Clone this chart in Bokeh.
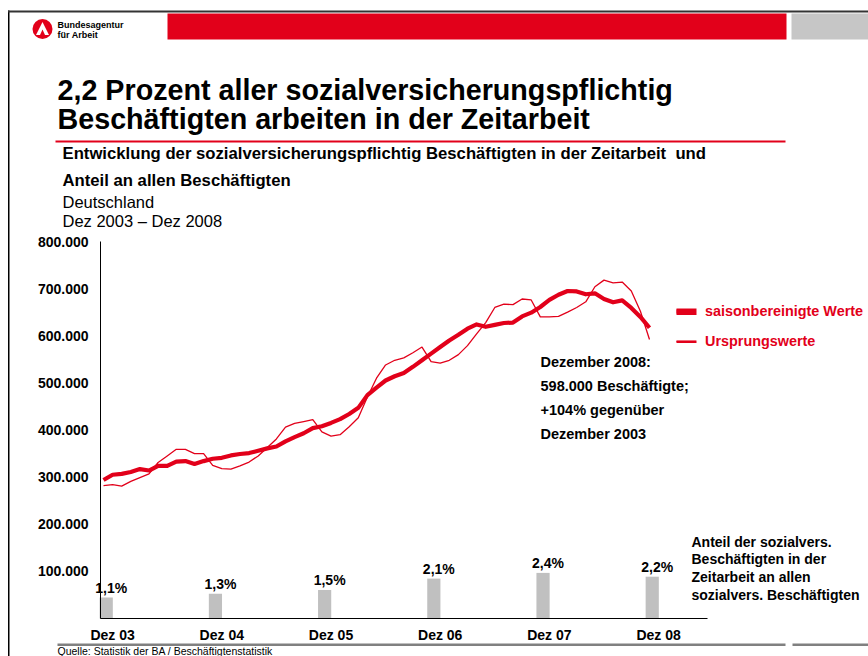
import numpy as np
from bokeh.plotting import figure
from bokeh.models import (Range1d, LinearAxis, FixedTicker, Label, BoxAnnotation,
                          PolyAnnotation, Legend, LegendItem)
from bokeh.core.properties import value
from bokeh.embed import file_html
from bokeh.resources import INLINE

# ---------------- data ----------------
# months since Dez 2003 (0 = Dez 03 ... 60 = Dez 08)
months = list(range(61))
# saisonbereinigte Werte (Tsd.)
sa_values = [294, 305, 307, 311, 317, 314, 324, 324, 333, 334, 328, 334,
             339, 341, 346, 349, 351, 356, 361, 365, 376, 385, 393, 404,
             408, 415, 423, 434, 447, 474, 490, 505, 514, 521, 534, 548,
             562, 576, 590, 602, 615, 624, 619, 623, 627, 628, 641, 649,
             661, 676, 687, 695, 694, 688, 690, 678, 671, 675, 659, 640,
             617]
# Ursprungswerte (Tsd.)
orig_values = [282, 284, 281, 291, 299, 307, 331, 345, 359, 359, 350, 350,
               325, 318, 317, 324, 332, 345, 363, 381, 406, 414, 418, 422,
               396, 387, 390, 407, 426, 470, 510, 538, 548, 553, 564, 576,
               545, 542, 548, 560, 579, 604, 628, 660, 667, 666, 678, 676,
               640, 640, 641, 650, 660, 672, 704, 718, 712, 714, 695, 652,
               592]
bar_months = [0, 12, 24, 36, 48, 60]
share = [1.1, 1.3, 1.5, 2.1, 2.4, 2.2]
share_labels = ["1,1%", "1,3%", "1,5%", "2,1%", "2,4%", "2,2%"]
x_tick_labels = ["Dez 03", "Dez 04", "Dez 05", "Dez 06", "Dez 07", "Dez 08"]
y_ticks = [100, 200, 300, 400, 500, 600, 700, 800]
y_tick_labels = ["100.000", "200.000", "300.000", "400.000",
                 "500.000", "600.000", "700.000", "800.000"]

RED = "#E2001A"
FONT = "Liberation Sans"

# The plotting frame covers the whole canvas; the axes are pinned inside it.
W, H = 868, 656
PX_MONTH = 9.1          # pixels per month
X0 = 103                # pixel of Dez 03
Y0 = 618                # pixel of value 0
PX_K = 377 / 800        # pixels per 1000 employees
PX_PCT = 19             # pixels per percent

x_range = Range1d(-X0 / PX_MONTH, (W - X0) / PX_MONTH)
y_range = Range1d(-(H - Y0) / PX_K, Y0 / PX_K)
pct_range = Range1d(-(H - Y0) / PX_PCT, Y0 / PX_PCT)
x_axis_left = (100 - X0) / PX_MONTH
x_axis_right = (707 - X0) / PX_MONTH

p = figure(width=W, height=H, output_backend="svg", toolbar_location=None,
           x_range=x_range, y_range=y_range,
           min_border=0, min_border_left=0, min_border_right=0,
           min_border_top=0, min_border_bottom=0,
           x_axis_type=None, y_axis_type=None,
           background_fill_color="white", border_fill_color="white")
p.outline_line_color = None
p.extra_y_ranges = {"pct": pct_range}

# axes (pinned at fixed locations)
yaxis = LinearAxis(ticker=FixedTicker(ticks=y_ticks),
                   major_label_overrides=dict(zip(y_ticks, y_tick_labels)),
                   fixed_location=x_axis_left, bounds=(0, 800))
xticks = [m + 1 for m in bar_months]
xaxis = LinearAxis(ticker=FixedTicker(ticks=xticks),
                   major_label_overrides=dict(zip(xticks, x_tick_labels)),
                   fixed_location=0, bounds=(x_axis_left, x_axis_right))
for ax in (yaxis, xaxis):
    ax.axis_line_color = "black"
    ax.axis_line_width = 1
    ax.major_tick_line_color = None
    ax.minor_tick_line_color = None
    ax.major_label_text_font = FONT
    ax.major_label_text_font_style = "bold"
    ax.major_label_text_font_size = "14px"
    ax.major_label_text_color = "black"
yaxis.major_label_standoff = 6
xaxis.major_label_standoff = 2
p.add_layout(yaxis, "left")
p.add_layout(xaxis, "below")

# bars (share of employees)
bar_x = [m + 0.3 for m in bar_months]
p.vbar(x=bar_x, top=share, width=1.45, bottom=0,
       y_range_name="pct", fill_color="#C0C0C0", line_color=None)
p.text(x=bar_x, y=share, text=share_labels,
       y_range_name="pct", x_offset=5, y_offset=-10, text_align="center",
       text_baseline="middle", text_font=value(FONT), text_font_size="14px",
       text_font_style="bold", text_color="black")

# lines
orig_r = p.line(months, orig_values, line_width=1.3, line_color=RED, line_join="round")
sa_r = p.line(months, sa_values, line_width=4.2, line_color=RED, line_join="round")

# legend
legend = Legend(items=[LegendItem(label="saisonbereinigte Werte", renderers=[sa_r]),
                       LegendItem(label="Ursprungswerte", renderers=[orig_r])],
                location=(676, H - 351), border_line_color=None,
                background_fill_alpha=0, padding=0, margin=0, spacing=10,
                glyph_width=20, glyph_height=20, label_height=20,
                label_standoff=9, label_text_font=FONT,
                label_text_font_size="14.4px", label_text_font_style="bold",
                label_text_color=RED)
p.add_layout(legend)


def box(l, t, r, b, color, radius=0):
    p.add_layout(BoxAnnotation(left=l, right=r, top=t, bottom=b,
                               left_units="canvas", right_units="canvas",
                               top_units="canvas", bottom_units="canvas",
                               fill_color=color, fill_alpha=1, line_color=None,
                               border_radius=radius, level="overlay"))


def txt(x, y, s, size, bold=False, color="black", align="left"):
    # y is the vertical centre of the text line
    p.add_layout(Label(x=x, y=y, x_units="canvas", y_units="canvas", text=s,
                       text_font=FONT, text_font_size=f"{size}px",
                       text_font_style="bold" if bold else "normal",
                       text_color=color, text_align=align, text_baseline="middle"))


# legend samples (thicker than the chart lines, as in the original)
box(676, 308, 696, 314.5, RED)
box(676, 340, 696, 342.5, RED)

# header / frame
box(7.5, 10, 9, H, "black")
box(7.5, 10, W, 12, "#333333")
box(167, 13, 786, 39, RED)
box(791, 13, W, 39, "#C6C6C6")
# logo
box(32, 18.5, 52, 38.5, RED, radius=10)
p.add_layout(PolyAnnotation(xs=[42, 35.5, 48.5], ys=[21.5, 34.5, 34.5],
                            xs_units="canvas", ys_units="canvas",
                            fill_color="white", fill_alpha=1, line_color=None,
                            level="overlay"))
p.add_layout(PolyAnnotation(xs=[42, 39.5, 44.5], ys=[29, 34.5, 34.5],
                            xs_units="canvas", ys_units="canvas",
                            fill_color=RED, fill_alpha=1, line_color=None,
                            level="overlay"))
txt(57, 24, "Bundesagentur", 9, True)
txt(57, 34.3, "für Arbeit", 9, True)

# title
txt(57, 89.5, "2,2 Prozent aller sozialversicherungspflichtig", 28.7, True)
txt(57, 118.5, "Beschäftigten arbeiten in der Zeitarbeit", 28.7, True)
box(55, 140, 785, 142, RED)

# subtitles
txt(62, 153, "Entwicklung der sozialversicherungspflichtig Beschäftigten in der Zeitarbeit \u00a0und", 16.7, True)
txt(62, 179.5, "Anteil an allen Beschäftigten", 16.7, True)
txt(62, 201, "Deutschland", 16.5)
txt(62, 220, "Dez 2003 – Dez 2008", 16.5)

# annotation
for i, s in enumerate(["Dezember 2008:", "598.000 Beschäftigte;",
                       "+104% gegenüber", "Dezember 2003"]):
    txt(540, 361.5 + 24 * i, s, 14.5, True)

# right-hand note
for i, s in enumerate(["Anteil der sozialvers.", "Beschäftigten in der",
                       "Zeitarbeit an allen", "sozialvers. Beschäftigten"]):
    txt(691, 541 + 17.7 * i, s, 14, True)

# footer
box(57, 643, 785, 645.5, "#808080")
box(792, 643, W, 645.5, "#808080")
txt(57, 650.5, "Quelle: Statistik der BA / Beschäftigtenstatistik", 10.5)

open("out.html", "w").write(file_html(p, INLINE))
